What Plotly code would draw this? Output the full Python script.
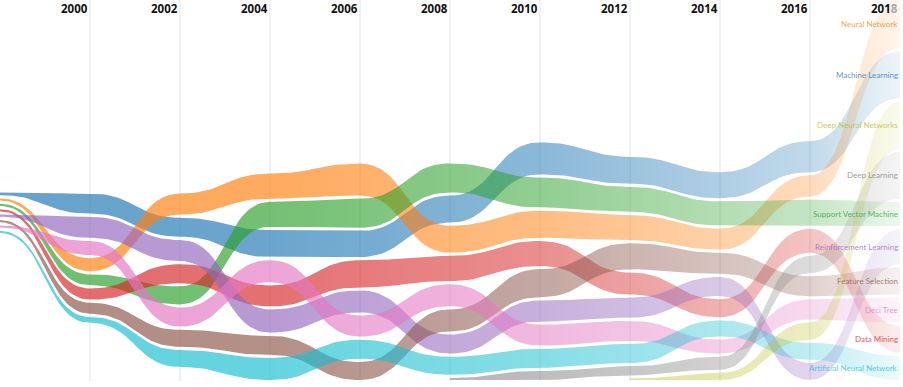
import numpy as np
import plotly.graph_objects as go

years = [1998, 2000, 2002, 2004, 2006, 2008, 2010, 2012, 2014, 2016, 2018]

series = ["Machine Learning", "Neural Network", "Support Vector Machine", "Data Mining",
          "Reinforcement Learning", "Feature Selection", "Deci Tree",
          "Artificial Neural Network", "Deep Learning", "Deep Neural Networks"]
colors = ["#1f77b4", "#ff7f0e", "#2ca02c", "#d62728", "#9467bd",
          "#8c564b", "#e377c2", "#17becf", "#7f7f7f", "#bcbd22"]

# rank per year (1 = top of the stack)
rank_ml = [1, 1, 2, 3, 3, 2, 1, 1, 1, 1, 2]
rank_nn = [2, 4, 1, 1, 1, 3, 3, 3, 3, 2, 1]
rank_svm = [3, 5, 5, 2, 2, 1, 2, 2, 2, 3, 5]
rank_dm = [4, 6, 4, 5, 4, 4, 4, 5, 6, 4, 9]
rank_rl = [5, 2, 3, 6, 5, 7, 6, 6, 5, 10, 6]
rank_fs = [6, 7, 7, 7, 8, 6, 5, 4, 4, 6, 7]
rank_dt = [7, 3, 6, 4, 6, 5, 7, 7, 8, 7, 8]
rank_ann = [8, 8, 8, 8, 7, 8, 8, 8, 7, 9, 10]
rank_dl = [None, None, None, None, None, 9, 9, 9, 9, 5, 4]
rank_dnn = [None, None, None, None, None, None, None, 10, 10, 8, 3]

# ribbon weight per year
value_ml = [2.6, 20, 19, 27, 26, 27, 32, 27, 26, 31, 47]
value_nn = [2.2, 13, 21, 25, 32, 27, 27, 25, 21, 21, 49]
value_svm = [2.2, 11, 18, 25, 29, 29, 30, 25, 24, 26, 24]
value_dm = [2.2, 11, 19, 21, 27, 25, 25, 22, 18, 24, 27]
value_rl = [2.2, 21, 21, 23, 22, 19, 21, 20, 19, 17, 35]
value_fs = [2.2, 11, 17, 19, 18, 22, 28, 26, 21, 20, 27]
value_dt = [2.2, 14, 19, 22, 21, 22, 21, 20, 14, 20, 25]
value_ann = [2.2, 6, 17, 22, 19, 18, 19, 19, 16, 17, 24]
value_dl = [None, None, None, None, None, 2, 9, 9, 13, 17, 47]
value_dnn = [None, None, None, None, None, None, None, 1.5, 7, 17, 47]

stack_base = [147, 57, 13, 0, 0, 0, 0, 0, 0, 0, 0]
gap = 3.2

ranks = [rank_ml, rank_nn, rank_svm, rank_dm, rank_rl, rank_fs, rank_dt, rank_ann, rank_dl, rank_dnn]
values = [value_ml, value_nn, value_svm, value_dm, value_rl, value_fs, value_dt, value_ann, value_dl, value_dnn]

n = len(series)
bottoms = [[None] * len(years) for _ in range(n)]
tops = [[None] * len(years) for _ in range(n)]
for j in range(len(years)):
    present = [i for i in range(n) if ranks[i][j] is not None]
    present.sort(key=lambda i: -ranks[i][j])
    y = stack_base[j]
    for i in present:
        bottoms[i][j] = y
        tops[i][j] = y + values[i][j]
        y += values[i][j] + gap


def bump(xs, ys, steps=30):
    t = np.linspace(0, 1, steps)
    ox, oy = [], []
    for k in range(len(xs) - 1):
        x0, x1, y0, y1 = xs[k], xs[k + 1], ys[k], ys[k + 1]
        xm = (x0 + x1) / 2
        bx = (1 - t) ** 3 * x0 + 3 * (1 - t) ** 2 * t * xm + 3 * (1 - t) * t ** 2 * xm + t ** 3 * x1
        by = (1 - t) ** 3 * y0 + 3 * (1 - t) ** 2 * t * y0 + 3 * (1 - t) * t ** 2 * y1 + t ** 3 * y1
        if k > 0:
            bx, by = bx[1:], by[1:]
        ox.extend(bx.tolist())
        oy.extend(by.tolist())
    return ox, oy


def rgba(hexc, a):
    h = hexc.lstrip("#")
    r, g, b = int(h[0:2], 16), int(h[2:4], 16), int(h[4:6], 16)
    return f"rgba({r},{g},{b},{a})"


fig = go.Figure()

for yr in years[1:-1]:
    fig.add_shape(type="line", x0=yr, x1=yr, y0=-1, y1=380, xref="x", yref="y",
                  line=dict(color="#e3e3e3", width=1), layer="below")

for i in range(n):
    idx = [j for j in range(len(years)) if values[i][j] is not None]
    xs = [years[j] for j in idx]
    tx, ty = bump(xs, [tops[i][j] for j in idx])
    bx, by = bump(xs, [bottoms[i][j] for j in idx])
    px = tx + bx[::-1]
    py = ty + by[::-1]
    c = colors[i]
    fig.add_trace(go.Scatter(
        x=px, y=py, mode="lines", fill="toself", line=dict(width=0),
        fillgradient=dict(type="horizontal", start=1998, stop=2018,
                          colorscale=[[0, rgba(c, 0.68)], [0.3, rgba(c, 0.66)],
                                      [0.6, rgba(c, 0.52)], [0.9, rgba(c, 0.28)],
                                      [1, rgba(c, 0.08)]]),
        hoverinfo="skip", showlegend=False, name=series[i]))

for i in range(n):
    cy = (tops[i][-1] + bottoms[i][-1]) / 2
    fig.add_annotation(x=2018, y=cy, text=series[i], showarrow=False, xanchor="right",
                       yanchor="middle", font=dict(size=8, color=rgba(colors[i], 0.78),
                                                   family="Lato"))

for yr in years[1:]:
    label = str(yr)
    if yr == 2018:
        label = "201<span style='color:#aaaaaa'>8</span>"
    fig.add_annotation(x=yr, y=372, text="<b>" + label + "</b>", showarrow=False,
                       xanchor="right", yanchor="middle",
                       font=dict(size=11.5, color="#111111", family="Open Sans"))

fig.update_layout(
    width=903, height=387, margin=dict(l=0, r=0, t=0, b=0),
    paper_bgcolor="white", plot_bgcolor="white",
    xaxis=dict(range=[1998, 1998 + 903 / 45], visible=False, fixedrange=True),
    yaxis=dict(range=[-7, 380], visible=False, fixedrange=True),
)

fig.write_html("out.html", config={"displayModeBar": False},
               post_script="document.body.style.margin='0';document.body.style.padding='0';document.body.style.overflow='hidden';")
